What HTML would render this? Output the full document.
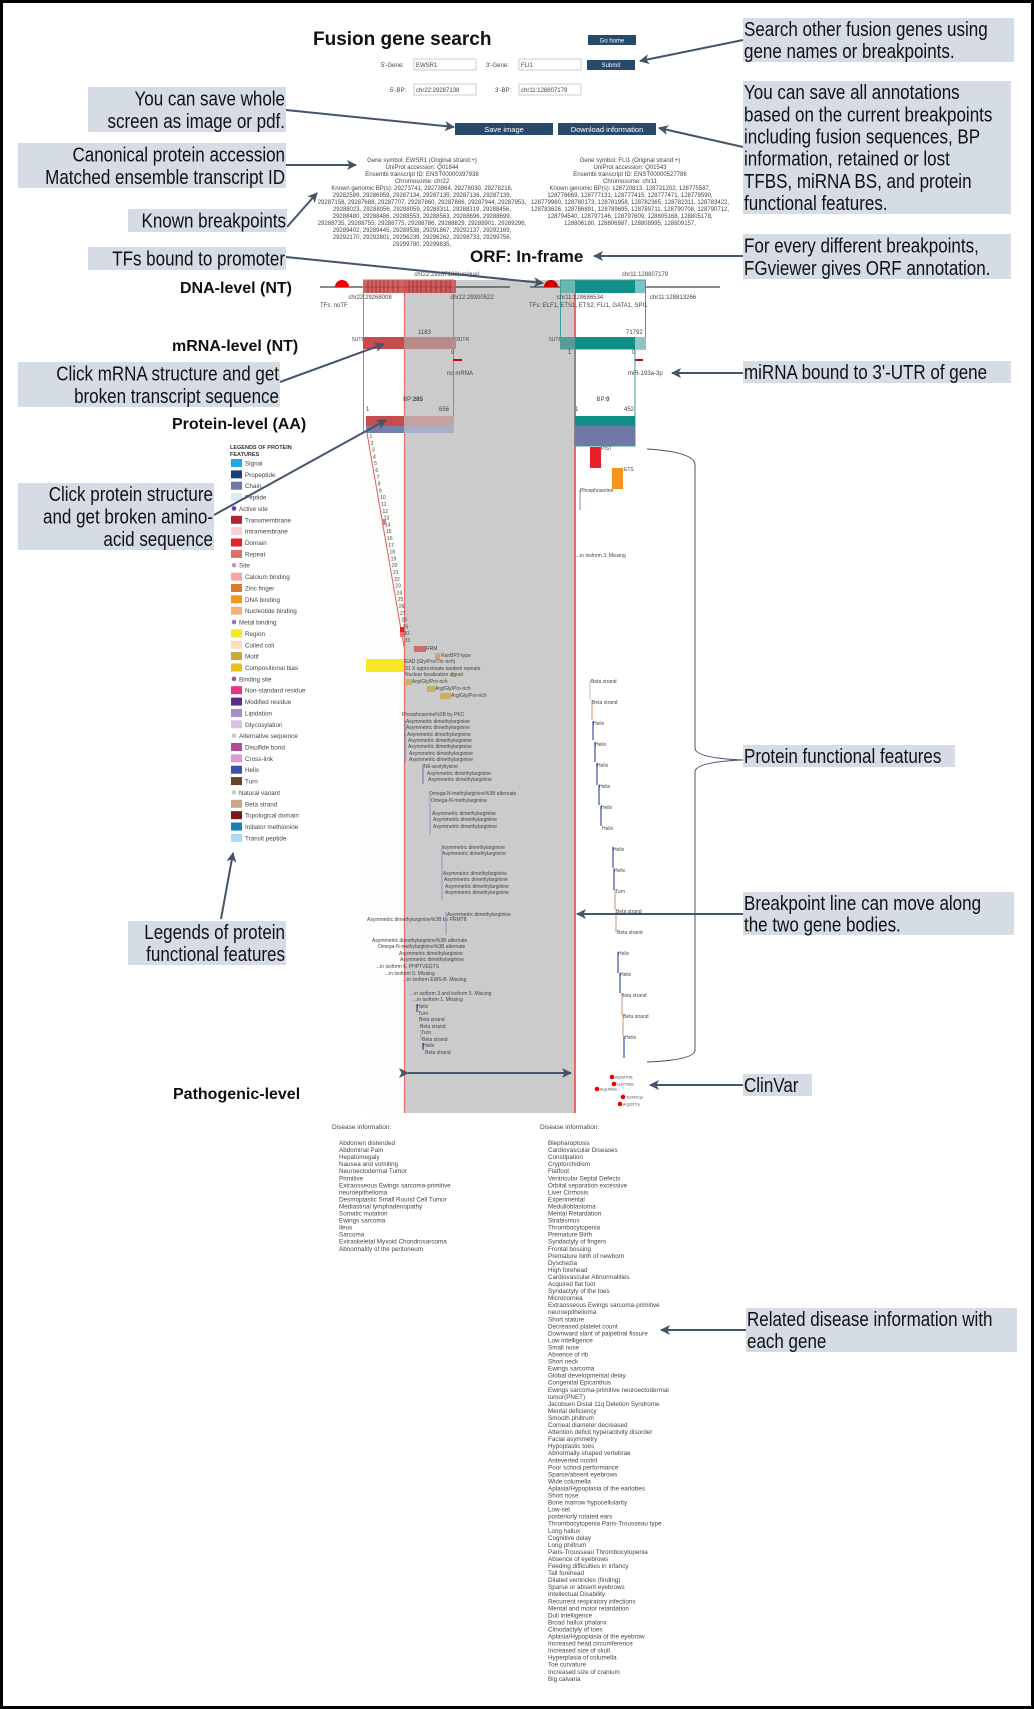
<!DOCTYPE html>
<html><head><meta charset="utf-8"><title>FGviewer figure</title>
<style>
html,body{margin:0;padding:0;background:#fff;}
body{width:1034px;height:1709px;overflow:hidden;}
svg{display:block;font-family:"Liberation Sans",Arial,sans-serif;}
.t6{font-size:6px;fill:#444;}
.t5{font-size:5px;fill:#444;}
.ann{font-size:20px;fill:#111;}
.lvl{font-size:16px;font-weight:bold;fill:#111;}
</style></head>
<body>
<svg id="fig" width="1034" height="1709" viewBox="0 0 1034 1709">
<defs>
<marker id="ah2" markerWidth="10" markerHeight="10" refX="9" refY="5" orient="auto" markerUnits="userSpaceOnUse"><path d="M0,0 L10,5 L0,10 L2.5,5 z" fill="#44546a"/></marker>
</defs>
<rect x="1.5" y="1.5" width="1031" height="1706" fill="#fff" stroke="#000" stroke-width="3"/>

<text x="313" y="45" font-size="19" font-weight="bold" fill="#111">Fusion gene search</text>
<g><rect x="588" y="35" width="48" height="10" fill="#274a6b"/><text x="612" y="42.5" font-size="6" fill="#fff" text-anchor="middle">Go home</text></g>
<text x="381" y="67" class="t6" font-size="7">5'-Gene:</text>
<g><rect x="414" y="59" width="62" height="11" fill="#fff" stroke="#ccc"/><text x="416" y="67" class="t6">EWSR1</text></g>
<text x="486" y="67" class="t6" font-size="7">3'-Gene:</text>
<g><rect x="519" y="59" width="62" height="11" fill="#fff" stroke="#ccc"/><text x="521" y="67" class="t6">FLI1</text></g>
<g><rect x="587" y="60" width="48" height="10" fill="#274a6b"/><text x="611" y="67" font-size="6" fill="#fff" text-anchor="middle">Submit</text></g>
<text x="390" y="92" class="t6" font-size="7">5'-BP:</text>
<g><rect x="414" y="84" width="62" height="11" fill="#fff" stroke="#ccc"/><text x="416" y="92" class="t6">chr22:29287138</text></g>
<text x="495" y="92" class="t6" font-size="7">3'-BP:</text>
<g><rect x="519" y="84" width="62" height="11" fill="#fff" stroke="#ccc"/><text x="521" y="92" class="t6">chr11:128807179</text></g>
<g><rect x="455" y="123" width="98" height="12" fill="#274a6b"/><text x="504" y="132" font-size="7.5" fill="#fff" text-anchor="middle">Save image</text></g>
<g><rect x="558" y="123" width="98" height="12" fill="#274a6b"/><text x="607" y="132" font-size="7.5" fill="#fff" text-anchor="middle">Download information</text></g>

<g id="geneinfo"></g>

<text x="470" y="262" font-size="17" font-weight="bold" fill="#111">ORF: In-frame</text>

<text x="180" y="293" class="lvl">DNA-level (NT)</text>
<text x="172" y="351" class="lvl">mRNA-level (NT)</text>
<text x="172" y="429" class="lvl">Protein-level (AA)</text>
<text x="173" y="1099" class="lvl">Pathogenic-level</text>

<rect x="366" y="433" width="38" height="680" fill="#fdfdfc"/>
<rect x="404" y="280" width="171" height="833" fill="#cbcbcb"/>
<line x1="404.5" y1="280" x2="404.5" y2="1113" stroke="#e86a6a" stroke-width="1.2"/>
<line x1="575" y1="280" x2="575" y2="1113" stroke="#e86a6a" stroke-width="2"/>

<line x1="320" y1="287" x2="510" y2="287" stroke="#444" stroke-width="1.2"/>
<line x1="530" y1="287" x2="720" y2="287" stroke="#444" stroke-width="1.2"/>
<path d="M335,287 A7,7 0 0 1 349,287 Z" fill="#e00"/>
<path d="M544,287 A7,7 0 0 1 558,287 Z" fill="#c00"/>
<rect x="363" y="280" width="93" height="13" fill="#c94a4a" opacity="0.85"/>
<g id="stripes"></g>
<rect x="560" y="280" width="86" height="13" fill="#11908a"/>
<rect x="560" y="280" width="15" height="13" fill="#6fb5b0"/>
<rect x="635" y="280" width="11" height="13" fill="#7cc3bf"/>
<rect x="363.5" y="280" width="90" height="152" fill="none" stroke="#d07070" stroke-width="1"/>
<rect x="560.5" y="280" width="85" height="69" fill="none" stroke="#39a39b" stroke-width="1"/>
<rect x="575" y="349" width="60" height="97" fill="none" stroke="#39a39b" stroke-width="1"/>
<text x="447" y="276" class="t6" text-anchor="middle">chr22:29287138(unique)</text>
<text x="645" y="276" class="t6" text-anchor="middle">chr11:128807179</text>
<text x="370" y="299" class="t6" text-anchor="middle">chr22:29268008</text>
<text x="472" y="299" class="t6" text-anchor="middle">chr22:29300522</text>
<text x="580" y="299" class="t6" text-anchor="middle">chr11:128686534</text>
<text x="673" y="299" class="t6" text-anchor="middle">chr11:128813266</text>
<text x="320" y="307" class="t6">TFs: noTF</text>
<text x="529" y="307" class="t6">TFs: ELF1, ETS1, ETS2, FLI1, GATA1, SPI1</text>

<text x="418" y="334" class="t6">1183</text>
<text x="626" y="334" class="t6">71792</text>
<text x="352" y="341" class="t5" font-size="3.5">5UTR</text>
<text x="456" y="341" class="t5" font-size="3.5">3UTR</text>
<text x="549" y="341" class="t5" font-size="3.5">5UTR</text>
<g><rect x="363" y="337" width="41" height="12" fill="#c84c4c"/><rect x="404" y="337" width="52" height="12" fill="#b88a8a"/></g>
<g><rect x="560" y="337" width="15" height="12" fill="#5a9a96"/><rect x="575" y="337" width="60" height="12" fill="#0f8f87"/><rect x="635" y="337" width="11" height="12" fill="#8cc7c3"/></g>
<text x="451" y="354" class="t6">0</text><text x="568" y="354" class="t6">1</text><text x="632" y="354" class="t6">0</text>
<rect x="453" y="359" width="9" height="2" fill="#d00"/>
<rect x="635" y="359" width="8" height="2" fill="#d00"/>
<text x="447" y="375" class="t6">no mRNA</text>
<text x="628" y="375" class="t6">miR-193a-3p</text>

<text x="413" y="401" class="t6" text-anchor="middle">BP:<tspan font-weight="bold">285</tspan></text>
<text x="603" y="401" class="t6" text-anchor="middle">BP:<tspan font-weight="bold">0</tspan></text>
<text x="366" y="411" class="t6">1</text><text x="439" y="411" class="t6">656</text>
<text x="575" y="411" class="t6">1</text><text x="624" y="411" class="t6">452</text>
<g><rect x="366" y="416" width="38" height="10" fill="#c84c4c"/><rect x="404" y="416" width="50" height="10" fill="#c4a2a2"/><rect x="366" y="426" width="88" height="7" fill="#7480a8"/><rect x="404" y="426" width="50" height="7" fill="#a8aec4"/></g>
<g><rect x="575" y="416" width="60" height="10" fill="#0f8f87"/><rect x="575" y="426" width="60" height="20" fill="#6e7aa5"/></g>

<g id="features"></g>
<g id="legend">
<text x="230" y="449" font-size="5.5" font-weight="bold" fill="#333">LEGENDS OF PROTEIN</text>
<text x="230" y="456" font-size="5.5" font-weight="bold" fill="#333">FEATURES</text>
</g>

<path d="M647,449 Q695,452 695,465 L695,748 Q695,758 743,760 Q695,762 695,772 L695,1050 Q695,1060 647,1062" fill="none" stroke="#44546a" stroke-width="1"/>

<line x1="408" y1="1073" x2="571" y2="1073" stroke="#44546a" stroke-width="2" marker-end="url(#ah2)" marker-start="url(#ah2)"/>
<g id="clinvar"></g>

<g id="disease"></g>

<g stroke="#44546a" stroke-width="2" fill="none">
<line x1="743" y1="40" x2="640" y2="61" marker-end="url(#ah2)"/>
<line x1="286" y1="110" x2="454" y2="127" marker-end="url(#ah2)"/>
<line x1="743" y1="147" x2="659" y2="128" marker-end="url(#ah2)"/>
<line x1="286" y1="165" x2="356" y2="165" marker-end="url(#ah2)"/>
<line x1="287" y1="227" x2="317" y2="193" marker-end="url(#ah2)"/>
<line x1="286" y1="257" x2="543" y2="283" marker-end="url(#ah2)"/>
<line x1="743" y1="256" x2="594" y2="256" marker-end="url(#ah2)"/>
<line x1="743" y1="373" x2="672" y2="373" marker-end="url(#ah2)"/>
<line x1="280" y1="382" x2="384" y2="344" marker-end="url(#ah2)"/>
<line x1="214" y1="515" x2="386" y2="420" marker-end="url(#ah2)"/>
<line x1="221" y1="919" x2="233" y2="853" marker-end="url(#ah2)"/>
<line x1="743" y1="914" x2="577" y2="914" marker-end="url(#ah2)"/>
<line x1="743" y1="1085" x2="650" y2="1085" marker-end="url(#ah2)"/>
<line x1="746" y1="1330" x2="661" y2="1330" marker-end="url(#ah2)"/>
</g>
<g id="anns"></g>
</svg>

<script>
var NS="http://www.w3.org/2000/svg";
function mk(tag,attrs,parent,txt){var e=document.createElementNS(NS,tag);for(var k in attrs)e.setAttribute(k,attrs[k]);if(txt!==undefined)e.textContent=txt;parent.appendChild(e);return e;}

var gi=document.getElementById('geneinfo');
var leftInfo=["Gene symbol: EWSR1 (Original strand:+)","UniProt accession: Q01844","Ensembl transcript ID: ENST00000397938","Chromosome: chr22","Known genomic BP(s): 29273741, 29273864, 29278030, 29278216,","29282589, 29286959, 29287134, 29287135, 29287136, 29287139,","29287158, 29287688, 29287707, 29287860, 29287886, 29287944, 29287953,","29288023, 29288056, 29288059, 29288311, 29288319, 29288456,","29288480, 29288486, 29288553, 29288563, 29288696, 29288699,","29288735, 29288755, 29288775, 29288786, 29288829, 29288901, 29289296,","29289402, 29289445, 29289538, 29291867, 29292137, 29292169,","29292170, 29292801, 29296239, 29296262, 29298733, 29299756,","29299780, 29299835,"];
var rightInfo=["Gene symbol: FLI1 (Original strand:+)","UniProt accession: Q01543","Ensembl transcript ID: ENST00000527786","Chromosome: chr11","Known genomic BP(s): 128720813, 128721202, 128775587,","128776669, 128777131, 128777415, 128777471, 128779590,","128779980, 128780173, 128781958, 128782365, 128782311, 128783422,","128783626, 128786891, 128789695, 128789711, 128790708, 128790712,","128794540, 128797146, 128797609, 128805168, 128805178,","128806180, 128806987, 128808995, 128809157,"];
leftInfo.forEach(function(s,i){var t=mk('text',{x:422,y:162+i*7,'class':'t6','text-anchor':'middle','font-size':'5.8'},gi,s);});
rightInfo.forEach(function(s,i){var t=mk('text',{x:630,y:162+i*7,'class':'t6','text-anchor':'middle','font-size':'5.8'},gi,s);});

var st=document.getElementById('stripes');
[368,372,376,380,384,388,393,398,409,413,417,421,426,431,436,441,446,450].forEach(function(x){var l=mk('line',{x1:x,y1:280,x2:x,y2:293,stroke:'#9e2a2a','stroke-width':0.8},st);});
[577,580,583,586,589].forEach(function(x){var l=mk('line',{x1:x,y1:280,x2:x,y2:293,stroke:'#0a5f5a','stroke-width':0.8},st);});

var fg=document.getElementById('features');
var dl=mk('line',{x1:367,y1:433,x2:404,y2:647,stroke:'#e05a5a','stroke-width':1},fg);

for(var i=1;i<=31;i++){var y=436+(i-1)*6.8;var x=367+(y-433)*37/214;var t=mk('text',{x:x+2,y:y+2,'class':'t5','font-size':'3.5'},fg,String(i));}
var boxes=[[382,519,4,6,'#e87878'],[400,627,4,5,'#e8202a'],[400,632,4,5,'#f07070'],[414,646,12,6,'#d06a6a'],[435,653,5,6,'#d9a070'],[366,659,38,13,'#f8e824'],[451,672,3,5,'#c9b060'],[406,679,6,6,'#c9b060'],[427,686,8,6,'#c9b060'],[440,693,11,6,'#c9b060'],[590,447,11,21,'#e8202a'],[612,468,11,21,'#f7941d']];
boxes.forEach(function(b){var r=mk('rect',{x:b[0],y:b[1],width:b[2],height:b[3],fill:b[4]},fg);});
var labels=[[426,650,'RRM'],[441,657,'RanBP2-type'],[405,663,'EAD (Gly/Pro/Thr-rich)'],[405,670,'31 X approximate tandem repeats'],[405,676,'Nuclear localization signal'],[412,683,'Arg/Gly/Pro-rich'],[435,690,'Arg/Gly/Pro-rich'],[451,697,'Arg/Gly/Pro-rich'],[402,716,'Phosphoserine%3B by PKC'],
[406,723,'Asymmetric dimethylarginine'],[406,729,'Asymmetric dimethylarginine'],[407,736,'Asymmetric dimethylarginine'],[408,742,'Asymmetric dimethylarginine'],[408,748,'Asymmetric dimethylarginine'],[409,755,'Asymmetric dimethylarginine'],[409,761,'Asymmetric dimethylarginine'],[424,768,'N6-acetyllysine'],[427,775,'Asymmetric dimethylarginine'],[428,781,'Asymmetric dimethylarginine'],[429,795,'Omega-N-methylarginine%3B alternate'],[431,802,'Omega-N-methylarginine'],[432,815,'Asymmetric dimethylarginine'],[433,821,'Asymmetric dimethylarginine'],[433,828,'Asymmetric dimethylarginine'],[441,849,'Asymmetric dimethylarginine'],[442,855,'Asymmetric dimethylarginine'],[443,875,'Asymmetric dimethylarginine'],[444,881,'Asymmetric dimethylarginine'],[445,888,'Asymmetric dimethylarginine'],[445,894,'Asymmetric dimethylarginine'],[447,916,'Asymmetric dimethylarginine'],[367,921,'Asymmetric dimethylarginine%3B by PRMT8'],
[372,942,'Asymmetric dimethylarginine%3B alternate'],[378,948,'Omega-N-methylarginine%3B alternate'],[399,955,'Asymmetric dimethylarginine'],[400,961,'Asymmetric dimethylarginine'],[376,968,'...in isoform 6. PHPTVEGTS'],[385,975,'...in isoform 5. Missing'],[403,981,'...in isoform EWS-B. Missing'],[410,995,'...in isoform 3 and isoform 5. Missing'],[413,1001,'...in isoform 1. Missing'],[417,1008,'Helix'],[418,1015,'Turn'],[419,1021,'Beta strand'],[420,1028,'Beta strand'],[421,1034,'Turn'],[422,1041,'Beta strand'],[423,1047,'Helix'],[425,1054,'Beta strand'],
[601,450,'PIST'],[624,471,'ETS'],[580,492,'Phosphoserine'],[576,557,'...in isoform 3. Missing'],[591,683,'Beta strand'],[592,704,'Beta strand'],[593,725,'Helix'],[595,746,'Helix'],[597,767,'Helix'],[599,788,'Helix'],[601,809,'Helix'],[602,830,'Helix'],[613,851,'Helix'],[614,872,'Helix'],[615,893,'Turn'],[616,913,'Beta strand'],[617,934,'Beta strand'],[618,955,'Helix'],[620,976,'Helix'],[621,997,'Beta strand'],[623,1018,'Beta strand'],[625,1039,'Helix']];
labels.forEach(function(l){var t=mk('text',{x:l[0],y:l[1],'class':'t5','font-size':'3.8'},fg,l[2]);});
var segs=[[405,720,762,'#7a80b0'],[423,764,784,'#7a80b0'],[430,792,835,'#9aa0c0'],[442,845,900,'#9aa0c0'],[446,912,935,'#9aa0c0'],[417,1004,1012,'#3b4fa8'],[421,1030,1040,'#c9a58a'],[423,1043,1050,'#3b4fa8'],[580,490,510,'#9aa0c8'],[590,680,700,'#d9c8b8'],[592,700,720,'#c9a58a'],[593,721,740,'#3b4fa8'],[595,742,762,'#3b4fa8'],[597,763,785,'#3b4fa8'],[599,785,805,'#3b4fa8'],[601,806,826,'#3b4fa8'],[613,847,868,'#3b4fa8'],[614,869,890,'#3b4fa8'],[615,890,910,'#c9a58a'],[616,911,932,'#c9a58a'],[618,952,973,'#3b4fa8'],[620,973,993,'#3b4fa8'],[622,994,1015,'#c9a58a'],[623,1015,1036,'#c9a58a'],[624,1036,1058,'#3b4fa8']];
segs.forEach(function(s){var l=mk('line',{x1:s[0],y1:s[1],x2:s[0],y2:s[2],stroke:s[3],'stroke-width':1.2},fg);});

var lg=document.getElementById('legend');
var legNames=["Signal","Propeptide","Chain","Peptide","Active site","Transmembrane","Intramembrane","Domain","Repeat","Site","Calcium binding","Zinc finger","DNA binding","Nucleotide binding","Metal binding","Region","Coiled coil","Motif","Compositional bias","Binding site","Non-standard residue","Modified residue","Lipidation","Glycosylation","Alternative sequence","Disulfide bond","Cross-link","Helix","Turn","Natural variant","Beta strand","Topological domain","Initiator methionine","Transit peptide"];
var legColors=["#1ea9e8","#1f3f77","#6d7aa8","#d6ecf8","#6a3d9a","#b22433","#f7d0d8","#e8202a","#e07070","#d38fc2","#f4a6a6","#d97b2a","#f7941d","#f5b07a","#9b6fc0","#f8e824","#fbdcc0","#c9a93a","#e6c21a","#a04fa0","#e8328a","#5a2d8c","#a98bc8","#d7c3e0","#c9c3dd","#b04a9a","#d99ccb","#3b4fa8","#6b4226","#c8d0cc","#c9a58a","#7a1a1a","#1a7fb8","#a8dcf5"];
var dots={"Active site":1,"Site":1,"Metal binding":1,"Binding site":1,"Alternative sequence":1,"Natural variant":1};
legNames.forEach(function(n,i){var y=463+i*11.36;var g=mk('g',{},lg);
 if(dots[n]){mk('circle',{cx:234,cy:y,r:2.3,fill:legColors[i]},g);mk('text',{x:239,y:y+2.5,'font-size':'6.3',fill:'#444'},g,n);}
 else{mk('rect',{x:231,y:y-4,width:11,height:8,fill:legColors[i]},g);mk('text',{x:245,y:y+2.5,'font-size':'6.3',fill:'#444'},g,n);}});

var cv=document.getElementById('clinvar');
[[612,1077,'Asp287Hfs'],[614,1084,'Lys279Glu'],[597,1089,'Arg146Gln'],[623,1097,'Tyr343Cys'],[620,1104,'Arg331Trp']].forEach(function(d){var c=mk('circle',{cx:d[0],cy:d[1],r:2.3,fill:'#e00'},cv);var t=mk('text',{x:d[0]+3,y:d[1]+1.5,'font-size':'3.6',fill:'#444'},cv,d[2]);});

var dz=document.getElementById('disease');
var leftD=["Abdomen distended","Abdominal Pain","Hepatomegaly","Nausea and vomiting","Neuroectodermal Tumor","Primitive","Extraosseous Ewings sarcoma-primitive","neuroepithelioma","Desmoplastic Small Round Cell Tumor","Mediastinal lymphadenopathy","Somatic mutation","Ewings sarcoma","Ileus","Sarcoma","Extraskeletal Myxoid Chondrosarcoma","Abnormality of the peritoneum"];
var rightD=["Blepharoptosis","Cardiovascular Diseases","Constipation","Cryptorchidism","Flatfoot","Ventricular Septal Defects","Orbital separation excessive","Liver Cirrhosis","Experimental","Medulloblastoma","Mental Retardation","Strabismus","Thrombocytopenia","Premature Birth","Syndactyly of fingers","Frontal bossing","Premature birth of newborn","Dyschezia","High forehead","Cardiovascular Abnormalities","Acquired flat foot","Syndactyly of the toes","Microcornea","Extraosseous Ewings sarcoma-primitive","neuroepithelioma","Short stature","Decreased platelet count","Downward slant of palpebral fissure","Low intelligence","Small nose","Absence of rib","Short neck","Ewings sarcoma","Global developmental delay","Congenital Epicanthus","Ewings sarcoma-primitive neuroectodermal","tumor(PNET)","Jacobsen Distal 11q Deletion Syndrome","Mental deficiency","Smooth philtrum","Corneal diameter decreased","Attention deficit hyperactivity disorder","Facial asymmetry","Hypoplastic toes","Abnormally-shaped vertebrae","Anteverted nostril","Poor school performance","Sparse/absent eyebrows","Wide columella","Aplasia/Hypoplasia of the earlobes","Short nose","Bone marrow hypocellularity","Low-set","posteriorly rotated ears","Thrombocytopenia Paris-Trousseau type","Long hallux","Cognitive delay","Long philtrum","Paris-Trousseau Thrombocytopenia","Absence of eyebrows","Feeding difficulties in infancy","Tall forehead","Dilated ventricles (finding)","Sparse or absent eyebrows","Intellectual Disability","Recurrent respiratory infections","Mental and motor retardation","Dull intelligence","Broad hallux phalanx","Clinodactyly of toes","Aplasia/Hypoplasia of the eyebrow","Increased head circumference","Increased size of skull","Hyperplasia of columella","Toe curvature","Increased size of cranium","Big calvaria"];
var h1=mk('text',{x:332,y:1129,'font-size':'6.5',fill:'#444'},dz,'Disease information:');
var h2=mk('text',{x:540,y:1129,'font-size':'6.5',fill:'#444'},dz,'Disease information:');
leftD.forEach(function(s,i){var t=mk('text',{x:339,y:1145+i*7.05,'font-size':'6.3',fill:'#444'},dz,s);});
rightD.forEach(function(s,i){var t=mk('text',{x:548,y:1145+i*7.05,'font-size':'6.3',fill:'#444'},dz,s);});

var an=document.getElementById('anns');
var anns=[
[743,18,271,44,'l',["Search other fusion genes using","gene names or breakpoints."],'search-annotation'],
[88,87,198,45,'r',["You can save whole","screen as image or pdf."],'save-image-annotation'],
[743,81,268,133,'l',["You can save all annotations","based on the current breakpoints","including fusion sequences, BP","information, retained or lost","TFBS, miRNA BS, and protein","functional features."],'download-annotation'],
[18,143,268,45,'r',["Canonical protein accession","Matched ensemble transcript ID"],'accession-annotation'],
[128,209,159,23,'r',["Known breakpoints"],'known-breakpoints-annotation'],
[88,247,198,23,'r',["TFs bound to promoter"],'tf-annotation'],
[743,234,268,45,'l',["For every different breakpoints,","FGviewer gives ORF annotation."],'orf-annotation'],
[743,361,268,22,'l',["miRNA bound to 3'-UTR of gene"],'mirna-annotation'],
[18,362,262,45,'r',["Click mRNA structure and get","broken transcript sequence"],'mrna-annotation'],
[18,483,196,67,'r',["Click protein structure","and get broken amino-","acid sequence"],'protein-annotation'],
[128,921,158,44,'r',["Legends of protein","functional features"],'legend-annotation'],
[743,745,212,22,'l',["Protein functional features"],'features-annotation'],
[743,892,271,43,'l',["Breakpoint line can move along","the two gene bodies."],'breakpoint-annotation'],
[743,1074,69,22,'l',["ClinVar"],'clinvar-annotation'],
[746,1308,271,44,'l',["Related disease information with","each gene"],'disease-annotation']];
anns.forEach(function(a){var g=mk('g',{},an);
 mk('rect',{x:a[0],y:a[1],width:a[2],height:a[3],fill:'#d6dce5'},g);
 var n=a[5].length;var step=a[3]/n;
 a[5].forEach(function(s,i){var y=a[1]+step*i+step/2+7;
  var x=(a[4]=='l')?a[0]+1:a[0]+a[2]-1;
  var attrs={x:0,y:0,'class':'ann',transform:'translate('+x+','+y+') scale(0.85,1)'};
  if(a[4]!='l')attrs['text-anchor']='end';
  mk('text',attrs,g,s);});});
</script>
</body></html>
